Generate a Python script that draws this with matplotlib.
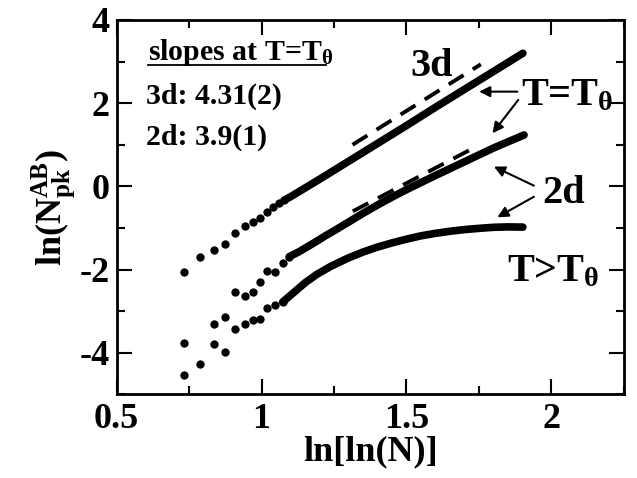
import matplotlib
matplotlib.use('Agg')
import matplotlib.pyplot as plt
from matplotlib.lines import Line2D
from matplotlib.ticker import MultipleLocator

plt.rcParams['font.family'] = ['Liberation Serif', 'DejaVu Serif']
plt.rcParams['font.weight'] = 'bold'
plt.rcParams['axes.labelweight'] = 'bold'
plt.rcParams['mathtext.fontset'] = 'custom'
plt.rcParams['mathtext.rm'] = 'Liberation Serif:bold'
plt.rcParams['mathtext.it'] = 'Liberation Serif:bold'
plt.rcParams['mathtext.bf'] = 'Liberation Serif:bold'
plt.rcParams['axes.unicode_minus'] = False

# 3d at T=T_theta: single dots for small N, then a dense band
x3d_dots = [0.733, 0.787, 0.835, 0.875, 0.910, 0.942, 0.971, 0.996, 1.018, 1.040, 1.060, 1.079]
y3d_dots = [-2.065, -1.705, -1.53, -1.385, -1.11, -0.945, -0.85, -0.75, -0.615, -0.49, -0.40, -0.33]
x3d_band = [1.079, 1.10, 1.15, 1.20, 1.30, 1.40, 1.50, 1.60, 1.70, 1.80, 1.902]
y3d_band = [-0.33, -0.25, -0.04, 0.17, 0.60, 1.03, 1.46, 1.90, 2.33, 2.76, 3.20]

# 2d at T=T_theta
x2d_dots = [0.733, 0.835, 0.875, 0.910, 0.942, 0.971, 0.996, 1.018, 1.045, 1.073, 1.096]
y2d_dots = [-3.757, -3.31, -3.14, -2.53, -2.63, -2.53, -2.31, -2.03, -2.05, -1.85, -1.69]
x2d_band = [1.096, 1.13, 1.154, 1.188, 1.22, 1.25, 1.30, 1.35, 1.40, 1.45, 1.50, 1.60, 1.70, 1.80, 1.906]
y2d_band = [-1.69, -1.57, -1.47, -1.33, -1.19, -1.07, -0.86, -0.65, -0.45, -0.26, -0.08, 0.26, 0.59, 0.92, 1.235]

# 2d at T>T_theta
xhot_dots = [0.733, 0.787, 0.835, 0.875, 0.910, 0.942, 0.971, 0.996, 1.018, 1.045, 1.073]
yhot_dots = [-4.53, -4.26, -3.80, -3.99, -3.435, -3.315, -3.21, -3.18, -2.92, -2.85, -2.78]
xhot_band = [1.073, 1.10, 1.12, 1.15, 1.19, 1.24, 1.30, 1.35, 1.40, 1.45, 1.50, 1.55,
             1.60, 1.65, 1.70, 1.75, 1.80, 1.85, 1.902]
yhot_band = [-2.78, -2.62, -2.50, -2.32, -2.12, -1.92, -1.72, -1.58, -1.46, -1.36, -1.27, -1.19,
             -1.13, -1.08, -1.04, -1.01, -0.985, -0.975, -0.98]

# fitted slopes (dashed)
x3d_fit = [1.314, 1.757]
y3d_fit = [1.00, 2.935]
x2d_fit = [1.315, 1.745]
y2d_fit = [-0.60, 0.97]

fig = plt.figure(figsize=(6.37, 4.78), dpi=100)
ax = fig.add_axes([0.1832, 0.1751, 0.7959, 0.7831])

for xd, yd, xb, yb in [(x3d_dots, y3d_dots, x3d_band, y3d_band),
                       (x2d_dots, y2d_dots, x2d_band, y2d_band),
                       (xhot_dots, yhot_dots, xhot_band, yhot_band)]:
    ax.plot(xd, yd, 'o', color='black', markersize=6, markeredgewidth=0)
    ax.plot(xb, yb, '-', color='black', lw=5.5, solid_capstyle='round', solid_joinstyle='round')

for xf, yf in [(x3d_fit, y3d_fit), (x2d_fit, y2d_fit)]:
    ax.plot(xf, yf, '--', color='black', lw=2.8, dashes=(4.5, 2.8))

ax.set_xlim(0.5, 2.25)
ax.set_ylim(-5, 4)
ax.xaxis.set_minor_locator(MultipleLocator(0.25))
ax.yaxis.set_major_locator(MultipleLocator(2))
ax.yaxis.set_minor_locator(MultipleLocator(1))
ax.set_xticks([0.5, 1, 1.5, 2])
ax.set_xticklabels(['0.5', '1', '1.5', '2'])
ax.tick_params(which='both', direction='in', top=True, right=True, width=1.5)
ax.tick_params(which='major', length=11, labelsize=26, pad=6)
ax.tick_params(which='minor', length=5.8)
ax.tick_params(axis='y', which='major', pad=5)
for sp in ax.spines.values():
    sp.set_linewidth(2)

ax.set_xlabel('ln[ln(N)]', fontsize=26, fontweight='bold', labelpad=0)
ax.set_ylabel(r'ln(N$^{AB}_{pk}$)', fontsize=26, fontweight='bold', labelpad=2)

ax.text(1.586, 2.654, '3d', fontsize=29, ha='center', va='baseline')
ax.text(1.895, 1.957, r'T=T$_{\theta}$', fontsize=29, ha='left', va='baseline')
ax.text(1.969, -0.406, '2d', fontsize=29, ha='left', va='baseline')
ax.text(1.846, -2.274, r'T>T$_{\theta}$', fontsize=29, ha='left', va='baseline')

head = ax.text(0.609, 3.04, r'slopes at T=T$_{\theta}$', fontsize=21.5, ha='left', va='baseline')
ax.text(0.60, 1.98, '3d: 4.31(2)', fontsize=21.5, ha='left', va='baseline')
ax.text(0.60, 1.00, '2d: 3.9(1)', fontsize=21.5, ha='left', va='baseline')

arrow = dict(arrowstyle='-|>', color='black', lw=1.5, mutation_scale=16, shrinkA=0, shrinkB=0)
ax.annotate('', xy=(1.751, 2.277), xytext=(1.883, 2.277), arrowprops=arrow)
ax.annotate('', xy=(1.797, 1.276), xytext=(1.886, 2.077), arrowprops=arrow)
ax.annotate('', xy=(1.802, 0.474), xytext=(1.940, 0.017), arrowprops=arrow)
ax.annotate('', xy=(1.814, -0.743), xytext=(1.940, -0.25), arrowprops=arrow)

# underline the heading
fig.canvas.draw()
bb = head.get_window_extent()
base_y = ax.transData.transform((0.609, 3.04))[1] - 5
inv = fig.transFigure.inverted()
(x0, y0), (x1, _) = inv.transform([(bb.x0, base_y), (bb.x1 - 8, base_y)])
fig.add_artist(Line2D([x0, x1], [y0, y0], transform=fig.transFigure, color='black', lw=1.3))

fig.savefig('out.png', dpi=100)
